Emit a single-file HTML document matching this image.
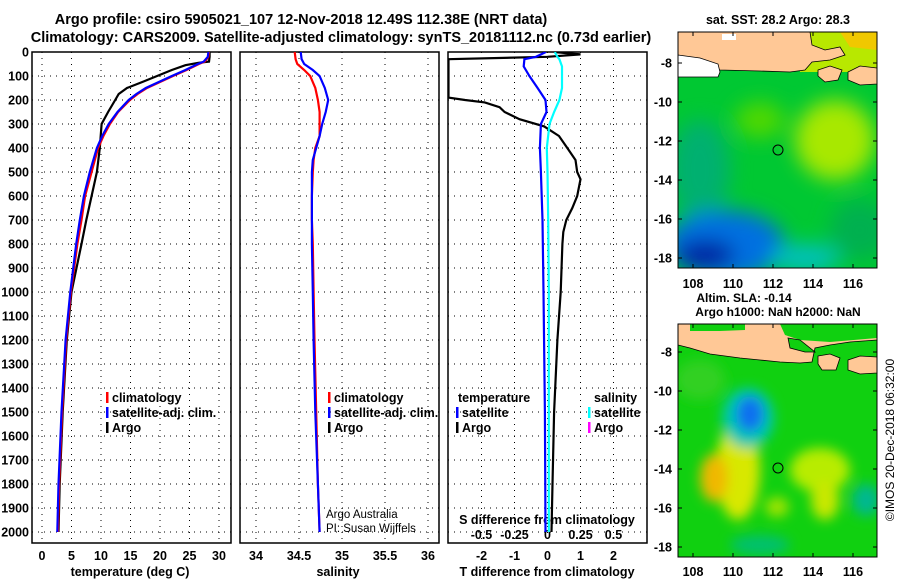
<!DOCTYPE html>
<html><head><meta charset="utf-8"><style>
body{margin:0;background:#fff;width:900px;height:580px;overflow:hidden;font-family:"Liberation Sans",sans-serif}
svg text{font-family:"Liberation Sans",sans-serif;font-weight:bold}
</style></head><body>
<svg id="c" width="900" height="580" xmlns="http://www.w3.org/2000/svg">
<defs>
<clipPath id="cp1"><rect x="32" y="52" width="199" height="491"/></clipPath>
<clipPath id="cp2"><rect x="240" y="52" width="199" height="491"/></clipPath>
<clipPath id="cp3"><rect x="448" y="52" width="199" height="491"/></clipPath>
<clipPath id="m1"><rect x="678" y="32" width="199" height="236"/></clipPath>
<clipPath id="m2"><rect x="678" y="324" width="199" height="233"/></clipPath>
<filter id="bl" x="-50%" y="-50%" width="200%" height="200%"><feGaussianBlur stdDeviation="10"/></filter>
<filter id="bl2" x="-50%" y="-50%" width="200%" height="200%"><feGaussianBlur stdDeviation="6"/></filter>
</defs>
<text x="301" y="24" font-size="14.5" text-anchor="middle">Argo profile: csiro 5905021_107 12-Nov-2018 12.49S 112.38E (NRT data)</text>
<text x="341" y="42" font-size="14.5" text-anchor="middle">Climatology: CARS2009. Satellite-adjusted climatology: synTS_20181112.nc (0.73d earlier)</text>

<!-- top map -->
<g clip-path="url(#m1)">
<rect x="678" y="32" width="199" height="236" fill="#00c832"/>
<g filter="url(#bl)">
<ellipse cx="835" cy="140" rx="40" ry="40" fill="#a8e800"/>
<ellipse cx="760" cy="120" rx="25" ry="18" fill="#50d800"/>
<ellipse cx="700" cy="170" rx="30" ry="50" fill="#00b070"/>
<ellipse cx="725" cy="245" rx="60" ry="35" fill="#0070e0"/>
<ellipse cx="705" cy="255" rx="30" ry="15" fill="#0020a0"/>
<ellipse cx="805" cy="258" rx="35" ry="14" fill="#00c0c0"/>
<ellipse cx="860" cy="230" rx="30" ry="30" fill="#00b050"/>
</g>
<path d="M800 32 H877 V72 H800 Z" fill="#b8e800"/>
<path d="M840 32 H877 V50 L850 47 Z" fill="#f0c800"/>
<path d="M678 32 H810 L812 45 L825 50 L840 47 L845 55 L830 60 L812 62 L805 70 L790 72 L760 71 L720 70 L700 66 L678 66 Z" fill="#ffc896" stroke="#000" stroke-width="0.8"/>
<path d="M678 55 L700 58 L718 64 L720 72 L718 77 L678 77 Z" fill="#fff" stroke="#000" stroke-width="0.8"/>
<path d="M722 34 H736 V40 H722 Z" fill="#fff"/>
<path d="M818 70 L830 66 L842 70 L838 80 L825 82 L818 76 Z" fill="#ffc896" stroke="#000" stroke-width="0.8"/>
<path d="M848 72 L860 66 L877 68 V84 L860 85 L848 80 Z" fill="#ffc896" stroke="#000" stroke-width="0.8"/>
<circle cx="778" cy="150" r="5" fill="none" stroke="#000"/>
</g>
<rect x="678" y="32" width="199" height="236" fill="none" stroke="#000"/>

<!-- bottom map -->
<g clip-path="url(#m2)">
<rect x="678" y="324" width="199" height="233" fill="#10d010"/>
<g filter="url(#bl2)">
<ellipse cx="738" cy="470" rx="22" ry="50" fill="#d8e800"/>
<ellipse cx="714" cy="478" rx="14" ry="24" fill="#f0b800"/>
<ellipse cx="820" cy="470" rx="30" ry="22" fill="#b8ec00"/>
<ellipse cx="825" cy="500" rx="14" ry="20" fill="#c8e800"/>
<ellipse cx="777" cy="507" rx="12" ry="10" fill="#a0e400"/>
<ellipse cx="748" cy="418" rx="26" ry="30" fill="#00c8b0"/>
<ellipse cx="750" cy="414" rx="14" ry="18" fill="#0a70f0"/>
<ellipse cx="866" cy="500" rx="14" ry="16" fill="#00b890"/>
<ellipse cx="760" cy="545" rx="30" ry="10" fill="#00c070"/>
<ellipse cx="700" cy="380" rx="25" ry="20" fill="#30d020"/>
</g>
<path d="M678 324 H877 V340 L850 342 L830 345 L815 348 L812 362 L800 363 L780 362 L760 360 L740 358 L710 354 L690 348 L678 345 Z" fill="#ffc896" stroke="#000" stroke-width="0.8"/>
<path d="M690 324 H745 V330 L720 331 L690 331 Z" fill="#10d010"/>
<path d="M780 324 H877 V338 L830 342 L800 340 L785 335 Z" fill="#10d010"/>
<path d="M788 338 L800 340 L815 352 L805 352 L790 348 Z" fill="#10d010" stroke="#000" stroke-width="0.8"/>
<path d="M818 356 L830 354 L840 358 L836 370 L822 370 L818 364 Z" fill="#ffc896" stroke="#000" stroke-width="0.8"/>
<path d="M848 360 L860 356 L877 357 V373 L860 374 L848 370 Z" fill="#ffc896" stroke="#000" stroke-width="0.8"/>
<circle cx="778" cy="468" r="5" fill="none" stroke="#000"/>
</g>
<rect x="678" y="324" width="199" height="233" fill="none" stroke="#000"/>

<text x="778" y="24" font-size="12.5" text-anchor="middle">sat. SST: 28.2 Argo: 28.3</text>
<text x="744" y="302" font-size="12" text-anchor="middle">Altim. SLA: -0.14</text>
<text x="778" y="316" font-size="12" text-anchor="middle">Argo h1000: NaN h2000: NaN</text>
<text transform="translate(894,440) rotate(-90)" font-size="12" text-anchor="middle" style="font-weight:normal">©IMOS 20-Dec-2018 06:32:00</text>
<text x="326" y="518" font-size="11.5" style="font-weight:normal">Argo Australia</text>
<text x="326" y="532" font-size="11.5" style="font-weight:normal">PI: Susan Wijffels</text>
</svg>
<script>
// ---- data ----
const depthTclim=[0,20,40,50,75,100,125,150,175,200,250,300,350,400,500,600,700,800,1000,1200,1500,1800,2000];
const tempClim=[28.3,28.2,27.6,26.6,24.5,22.2,20.0,17.8,16.2,14.9,12.9,11.5,10.4,9.5,8.4,7.3,6.7,6.0,4.9,4.1,3.4,2.9,2.7];
const tempSat=[28.2,28.1,27.4,26.4,24.3,22.0,19.8,17.6,16.0,14.7,12.8,11.3,10.2,9.3,8.1,7.1,6.4,5.8,4.8,4.0,3.3,2.8,2.6];
const depthTargo=[0,20,40,45,55,75,100,125,150,175,200,250,300,400,500,600,700,800,1000,1200,1500,1800,2000];
const tempArgo=[28.4,28.4,28.3,26.5,24.3,22.0,19.5,17.0,14.4,13.0,12.4,11.2,10.1,9.8,9.3,8.4,7.5,6.7,5.0,4.2,3.5,3.0,2.8];
const depthS=[0,30,50,75,100,150,200,250,300,350,400,450,500,600,700,800,1000,1200,1500,1800,2000];
const salClim=[34.45,34.46,34.48,34.56,34.63,34.69,34.72,34.74,34.74,34.74,34.69,34.67,34.66,34.65,34.65,34.66,34.67,34.68,34.70,34.72,34.74];
const salSat=[34.52,34.53,34.56,34.66,34.74,34.80,34.84,34.81,34.77,34.74,34.70,34.66,34.65,34.65,34.65,34.65,34.66,34.67,34.69,34.72,34.74];
const depthD=[0,10,20,30,50,60,67,190,200,210,230,250,280,310,350,400,450,500,530,600,650,700,750,800,1000,1200,1500,1800,2000];
const tDiffArgo=[0.2,1.0,0.0,-3,-3,-3,-3,-3,-2.5,-1.9,-1.45,-1.3,-0.85,-0.1,0.35,0.6,0.85,0.9,1.0,0.9,0.75,0.57,0.48,0.45,0.4,0.3,0.2,0.15,0.12];
const depthDs=[0,20,30,60,100,150,200,250,300,400,500,700,1000,1500,2000];
const tDiffSat=[-0.05,-0.35,-0.7,-0.72,-0.55,-0.3,-0.06,-0.03,-0.2,-0.23,-0.2,-0.15,-0.12,-0.08,-0.06];
const sDiffSat=[0.055,0.075,0.09,0.11,0.11,0.11,0.09,0.05,0.015,-0.005,0.0,0.005,0.01,0.01,0.01];
const depthTicks=[0,100,200,300,400,500,600,700,800,900,1000,1100,1200,1300,1400,1500,1600,1700,1800,1900,2000];
const tTicks=[0,5,10,15,20,25,30];
const sTicks=[34,34.5,35,35.5,36];
const dTicks=[-2,-1,0,1,2];
const sdTicks=[-0.5,-0.25,0,0.25,0.5];
const sdLabels=["-0.5","-0.25","0","0.25","0.5"];
const lonTicks=[108,110,112,114,116];
const latTicks=[-8,-10,-12,-14,-16,-18];
// ---- axes ----
const Y=d=>52+d*0.24;
const X1=t=>42+t*5.9;
const X2=s=>299+(s-34.5)*86;
const X3=t=>547.5+t*33;
const XS=s=>547.5+s*132;
const lonX=l=>693+(l-108)*20;
const latY1=l=>63+(-8-l)*19.5;
const latY2=l=>352+(-8-l)*19.5;
const svg=document.getElementById('c');
const NS='http://www.w3.org/2000/svg';
function mk(tag,attrs,parent){const e=document.createElementNS(NS,tag);for(const k in attrs)e.setAttribute(k,attrs[k]);(parent||svg).appendChild(e);return e;}
function txt(x,y,s,size,anchor){const e=mk('text',{x:x,y:y,'font-size':size,'text-anchor':anchor});e.textContent=s;return e;}
const panels=[{x0:32,X:X1,ticks:tTicks,name:'temperature'},{x0:240,X:X2,ticks:sTicks,name:'salinity'},{x0:448,X:X3,ticks:dTicks,name:'difference'}];
panels.forEach(p=>{
  const g=mk('g',{});
  
  
  depthTicks.forEach(d=>{
    if(d>0&&d<2040){const l=mk('line',{x1:p.x0,x2:p.x0+199,y1:Y(d),y2:Y(d),stroke:'#000','stroke-dasharray':'1,5','stroke-width':1},g);
    
    }
  });
  p.ticks.forEach(t=>{
    const l=mk('line',{x1:p.X(t),x2:p.X(t),y1:52,y2:543,stroke:'#000','stroke-dasharray':'1,5','stroke-width':1},g);
    
    
  });
  const r=mk('rect',{x:p.x0,y:52,width:199,height:491,fill:'none',stroke:'#000','stroke-width':1.5},g);
  
  
});
depthTicks.forEach(d=>{const t=txt(29,Y(d)+4.5,String(d),12.5,'end');

});
tTicks.forEach(v=>{const t=txt(X1(v),560,String(v),12.5,'middle');

});
sTicks.forEach(v=>{const t=txt(X2(v),560,String(v),12.5,'middle');

});
dTicks.forEach(v=>{const t=txt(X3(v),560,String(v),12.5,'middle');

});
sdTicks.forEach((v,i)=>{const t=txt(XS(v),539,sdLabels[i],12.5,'middle');

});
[[130,576,'temperature (deg C)'],[338,576,'salinity'],[547,576,'T difference from climatology'],[547,524,'S difference from climatology']].forEach(a=>{
  const t=txt(a[0],a[1],a[2],12.5,'middle');
  
  
});
// map axes
lonTicks.forEach(l=>{
  [[268,284],[557,572]].forEach(a=>{
    const t=txt(lonX(l),a[1]+4,String(l),12.5,'middle');
    
    
  });
  [[32,268],[324,557]].forEach(a=>{
    mk('line',{x1:lonX(l),x2:lonX(l),y1:a[0],y2:a[0]+4,stroke:'#000'});
    mk('line',{x1:lonX(l),x2:lonX(l),y1:a[1],y2:a[1]-4,stroke:'#000'});
  });
});
latTicks.forEach(l=>{
  [latY1(l),latY2(l)].forEach(y=>{
    const t=txt(672,y+4.5,String(l),12.5,'end');
    
    
    mk('line',{x1:678,x2:682,y1:y,y2:y,stroke:'#000'});
    mk('line',{x1:877,x2:873,y1:y,y2:y,stroke:'#000'});
  });
});
function line(xs,ds,X,color,clip,name){
  const pts=xs.map((v,i)=>X(v).toFixed(1)+','+Y(ds[i]).toFixed(1)).join(' ');
  const e=mk('polyline',{points:pts,fill:'none',stroke:color,'stroke-width':2.2,'clip-path':'url(#'+clip+')'});
  
  
}
line(tempArgo,depthTargo,X1,'#000','cp1','temp-argo-line');
line(tempClim,depthTclim,X1,'#ff0000','cp1','temp-clim-line');
line(tempSat,depthTclim,X1,'#0000ff','cp1','temp-sat-line');
line(salClim,depthS,X2,'#ff0000','cp2','sal-clim-line');
line(salSat,depthS,X2,'#0000ff','cp2','sal-sat-line');
line(tDiffArgo,depthD,X3,'#000','cp3','tdiff-argo-line');
line(sDiffSat,depthDs,XS,'#00ffff','cp3','sdiff-sat-line');
line(tDiffSat,depthDs,X3,'#0000ff','cp3','tdiff-sat-line');
// legends
function leg(x,y,color,label,name){
  const g=mk('g',{});
  
  
  if(color) mk('rect',{x:x,y:y-10,width:2.5,height:11,fill:color},g);
  const t=mk('text',{x:x+6,y:y,'font-size':12.5},g);t.textContent=label;
}
leg(106,402,'#ff0000','climatology','legend-temp-clim');
leg(106,417,'#0000ff','satellite-adj. clim.','legend-temp-sat');
leg(106,432,'#000','Argo','legend-temp-argo');
leg(328,402,'#ff0000','climatology','legend-sal-clim');
leg(328,417,'#0000ff','satellite-adj. clim.','legend-sal-sat');
leg(328,432,'#000','Argo','legend-sal-argo');
leg(452,402,null,'temperature','legend-t-header');
leg(456,417,'#0000ff','satellite','legend-t-sat');
leg(456,432,'#000','Argo','legend-t-argo');
leg(588,402,null,'salinity','legend-s-header');
leg(588,417,'#00ffff','satellite','legend-s-sat');
leg(588,432,'#ff00ff','Argo','legend-s-argo');
</script>
</body></html>
